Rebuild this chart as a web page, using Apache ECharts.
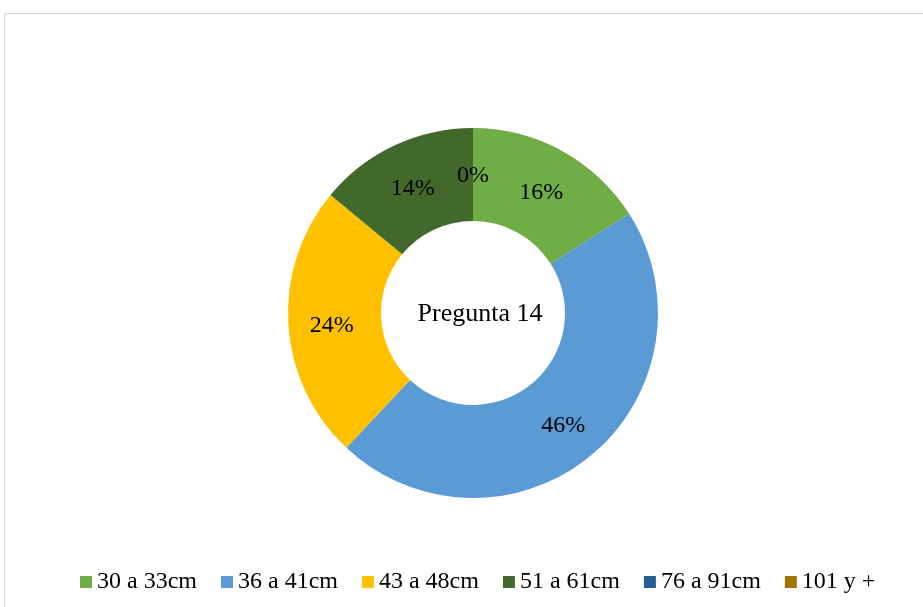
<!DOCTYPE html>
<html>
<head>
<meta charset="utf-8">
<script src="https://cdn.jsdelivr.net/npm/echarts@6/dist/echarts.min.js"></script>
<style>
  html, body { margin: 0; padding: 0; background: #fff; }
  #chart { width: 923px; height: 607px; }
</style>
</head>
<body>
<div id="chart"></div>
<script>
var categories = ['30 a 33cm', '36 a 41cm', '43 a 48cm', '51 a 61cm', '76 a 91cm', '101 y +']
var percents = [16, 46, 24, 14, 0, 0]
var colors = ['#70AD47', '#5B9BD5', '#FFC000', '#43682B', '#255E91', '#9E7400']
var centerTitle = 'Pregunta 14'

var chart = echarts.init(document.getElementById('chart'))
var serif = '"Liberation Serif", "Times New Roman", serif'

chart.setOption({
  animation: false,
  color: colors,
  graphic: [
    {
      type: 'rect',
      shape: { x: 4.5, y: 13.5, width: 940, height: 620 },
      style: { fill: 'none', stroke: '#d9d9d9', lineWidth: 1 },
      silent: true
    },
    {
      type: 'text',
      x: 480,
      y: 314,
      style: {
        text: centerTitle,
        font: '26px ' + serif,
        fill: '#000',
        align: 'center',
        verticalAlign: 'middle'
      },
      silent: true
    }
  ],
  legend: {
    data: categories,
    left: 75,
    top: 565,
    itemWidth: 12,
    itemHeight: 12,
    itemGap: 24,
    icon: 'rect',
    textStyle: {
      fontFamily: serif,
      fontSize: 24,
      color: '#000'
    }
  },
  series: [{
    type: 'pie',
    center: [473, 313],
    radius: [92, 185],
    startAngle: 90,
    clockwise: true,
    avoidLabelOverlap: false,
    label: {
      show: true,
      position: 'inside',
      fontFamily: serif,
      fontSize: 24,
      color: '#000',
      offset: [0, 4],
      formatter: function(p) {
        return Math.round(p.percent) + '%'
      }
    },
    labelLine: { show: false },
    emphasis: { disabled: true },
    data: categories.map(function(name, i) {
      return { name: name, value: percents[i] }
    })
  }]
})
</script>
</body>
</html>
